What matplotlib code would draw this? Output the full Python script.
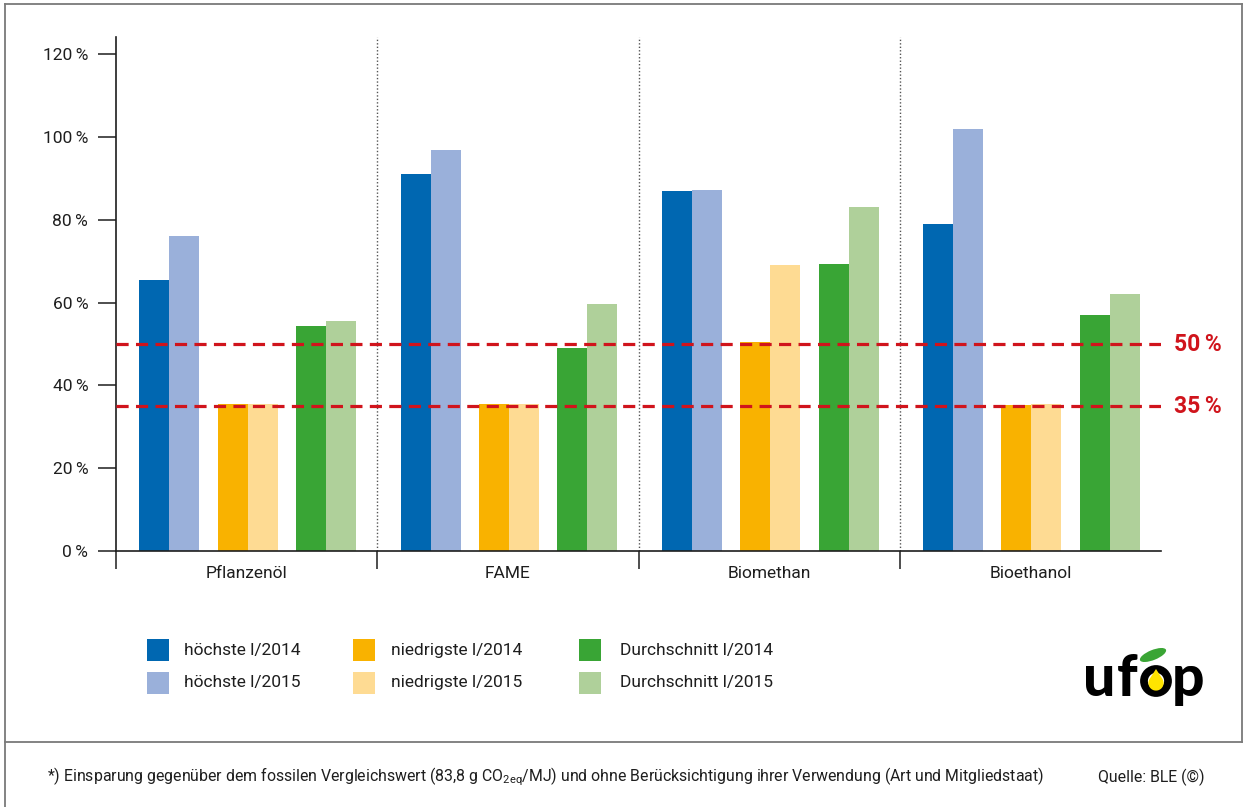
import matplotlib
matplotlib.use("Agg")
import matplotlib.pyplot as plt
import matplotlib.transforms as mtransforms
from matplotlib.patches import Rectangle, Circle, Ellipse, Polygon
from matplotlib.lines import Line2D
import numpy as np

plt.rcParams['font.family'] = ['Roboto', 'DejaVu Sans']
plt.rcParams['mathtext.fontset'] = 'custom'
plt.rcParams['mathtext.rm'] = 'Roboto'

# --- data -------------------------------------------------------------
categories = ["Pflanzenöl", "FAME", "Biomethan", "Bioethanol"]
hoechste_2014 = [65.5, 91.1, 87.0, 79.0]
hoechste_2015 = [76.1, 96.9, 87.2, 101.9]
niedrigste_2014 = [35.5, 35.5, 50.5, 35.3]
niedrigste_2015 = [35.5, 35.5, 69.1, 35.5]
durchschnitt_2014 = [54.3, 49.0, 69.3, 57.0]
durchschnitt_2015 = [55.6, 59.7, 83.1, 62.1]
thresholds = [50, 35]
y_ticks = [0, 20, 40, 60, 80, 100, 120]
series_labels = ["höchste l/2014", "höchste l/2015",
                 "niedrigste l/2014", "niedrigste l/2015",
                 "Durchschnitt l/2014", "Durchschnitt l/2015"]
footnote = ("*) Einsparung gegenüber dem fossilen Vergleichswert "
            "(83,8 g CO$_\\mathrm{2eq}$/MJ) und ohne Berücksichtigung "
            "ihrer Verwendung (Art und Mitgliedstaat)")
source = "Quelle: BLE (©)"

series = [hoechste_2014, hoechste_2015, niedrigste_2014, niedrigste_2015,
          durchschnitt_2014, durchschnitt_2015]
colors = ["#0067b1", "#9ab0da", "#f9b200", "#fedb93", "#39a535", "#afd09a"]
red = "#d0141c"
ink = "#1e1e1e"

W, H = 1245, 807
fig = plt.figure(figsize=(W / 100, H / 100), dpi=100)


def fx(px):
    return px / W


def fy(py):
    return 1 - py / H


# --- frame ------------------------------------------------------------
frame_kw = dict(transform=fig.transFigure, color="#7a7a7a", lw=1.3)
fig.add_artist(Line2D([fx(5), fx(1242)], [fy(4), fy(4)], **frame_kw))
fig.add_artist(Line2D([fx(5), fx(5)], [fy(4), fy(807)], **frame_kw))
fig.add_artist(Line2D([fx(1242), fx(1242)], [fy(4), fy(742)], **frame_kw))
fig.add_artist(Line2D([fx(5), fx(1242)], [fy(742), fy(742)], **frame_kw))

# --- main axes --------------------------------------------------------
ax = fig.add_axes([fx(116), fy(551), (1161 - 116) / W, (551 - 37) / H])
ax.set_xlim(0, 4)
ax.set_ylim(0, 514 / 4.14)

group_x = np.arange(len(categories))
bar_w = 0.115
pair_offsets = [0.204, 0.504, 0.804]
for i, vals in enumerate(series):
    pair = i // 2
    shift = -bar_w / 2 if i % 2 == 0 else bar_w / 2
    ax.bar(group_x + pair_offsets[pair] + shift, vals, width=bar_w,
           color=colors[i], zorder=2, linewidth=0)

for xsep in [1, 2, 3]:
    ax.axvline(xsep, color="#555555", lw=1.0, linestyle=(0, (1, 1.5)),
               zorder=1)

blend = mtransforms.blended_transform_factory(ax.transAxes, ax.transData)
for t in thresholds:
    ax.axhline(t, color=red, lw=2.3, dashes=(3.8, 2.3), zorder=3)
    ax.text(1.0125, t, f"{t}\u2009%", transform=blend, color=red,
            fontsize=16.5, fontweight="bold", ha="left", va="center",
            clip_on=False)

for side in ["top", "right"]:
    ax.spines[side].set_visible(False)
for side in ["left", "bottom"]:
    ax.spines[side].set_color(ink)
    ax.spines[side].set_linewidth(1.2)

ax.set_yticks(y_ticks)
ax.set_yticklabels([f"{v}\u2009%" for v in y_ticks])
ax.tick_params(axis="y", length=13, width=1.1, pad=7, labelsize=12.5,
               colors=ink)
ax.set_xticks([0, 1, 2, 3])
ax.set_xticklabels([])
ax.set_xticks(group_x + 0.5, minor=True)
ax.set_xticklabels(categories, minor=True)
ax.tick_params(axis="x", which="major", length=13, width=1.1, colors=ink)
ax.tick_params(axis="x", which="minor", length=0, pad=11, labelsize=12.5,
               labelcolor=ink)

# --- legend -----------------------------------------------------------
col_sq = [147, 353, 579]
col_tx = [184, 391, 620]
row_top = [639, 672]
sq = 22
for i, lab in enumerate(series_labels):
    c, r = i // 2, i % 2
    fig.add_artist(Rectangle((fx(col_sq[c]), fy(row_top[r] + sq)),
                             sq / W, sq / H, transform=fig.transFigure,
                             color=colors[i], lw=0))
    fig.text(fx(col_tx[c]), fy(row_top[r] + sq / 2), lab, fontsize=12.5,
             color=ink, ha="left", va="center")

# --- footer -----------------------------------------------------------
fig.text(fx(47), fy(777), footnote, fontsize=11.4, color=ink,
         ha="left", va="center")
fig.text(fx(1098), fy(777), source, fontsize=11.4, color=ink,
         ha="left", va="center")

# --- logo -------------------------------------------------------------
lx0, lx1, ly0, ly1 = 1076, 1216, 644, 716
lax = fig.add_axes([fx(lx0), fy(ly1), (lx1 - lx0) / W, (ly1 - ly0) / H])
lax.set_xlim(lx0, lx1)
lax.set_ylim(ly1, ly0)
lax.axis("off")
logo_font = dict(fontsize=41, fontweight="black", color="black",
                 ha="center", va="baseline", family=["Lato", "DejaVu Sans"])
lax.text(1099, 696, "u", **logo_font)
lax.text(1127, 696, "f", **logo_font)
lax.text(1188, 696, "p", **logo_font)
ocx, ocy = 1156, 681
lax.add_patch(Circle((ocx, ocy), 12, facecolor="none",
                     edgecolor="black", lw=5.6))
r_d, d_tip = 7.6, 14
a = np.degrees(np.arccos(r_d / d_tip))
ts = np.radians(np.linspace(90 + a, 90 - a + 360, 60))
drop = [(ocx, ocy + 2 - d_tip)] + [(ocx + r_d * np.cos(t),
                                    ocy + 2 - r_d * np.sin(t)) for t in ts]
lax.add_patch(Polygon(drop, closed=True, facecolor="#ffe400",
                      edgecolor="none"))
lax.add_patch(Ellipse((1153, 655), 28, 10, angle=-22, facecolor="#3aa535",
                      edgecolor="none"))

fig.savefig("out.png", dpi=100)
